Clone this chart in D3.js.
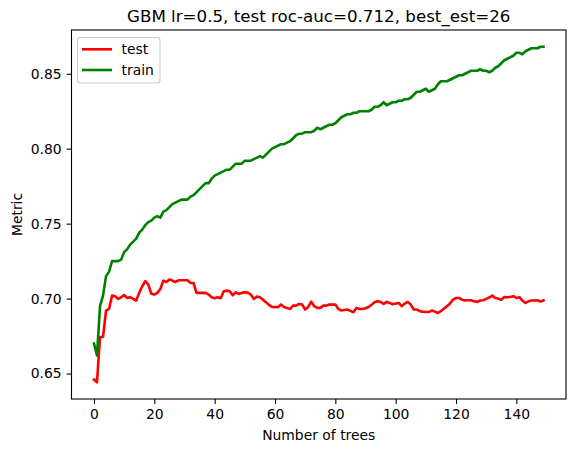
<!DOCTYPE html>
<html><head><meta charset="utf-8">
<script src="https://cdn.jsdelivr.net/npm/d3@7"></script>
<style>body{margin:0;background:#fff}svg{display:block}text{font-family:"DejaVu Sans",sans-serif;fill:#000}</style>
</head><body>
<svg id="c" width="576" height="453"></svg>
<script>
const title = "GBM lr=0.5, test roc-auc=0.712, best_est=26";
const xLabel = "Number of trees";
const yLabel = "Metric";
const xTicks = [0,20,40,60,80,100,120,140];
const yTicks = [0.65,0.70,0.75,0.80,0.85];
const seriesNames = ["test","train"];
const seriesColors = ["#ff0000","#008000"];
const testValues = [
0.646,0.6442,0.6744,0.6744,0.692,0.6931,0.702,0.7016,0.6998,0.7009,
0.7024,0.7004,0.7009,0.6998,0.6987,0.7038,0.7082,0.7116,0.7093,0.7033,
0.7027,0.7038,0.7064,0.712,0.7111,0.7127,0.712,0.7111,0.7122,0.7122,
0.7122,0.7122,0.7104,0.7104,0.7038,0.7038,0.7038,0.7038,0.7027,0.7009,
0.7002,0.7009,0.7002,0.7049,0.7053,0.7049,0.7022,0.7042,0.7031,0.7038,
0.7042,0.704,0.7027,0.6998,0.7013,0.7009,0.6993,0.6976,0.6958,0.6944,
0.6944,0.6942,0.696,0.6944,0.6938,0.6931,0.6953,0.6953,0.6964,0.696,
0.6927,0.6944,0.698,0.6949,0.6938,0.6938,0.6953,0.6953,0.696,0.696,
0.696,0.6931,0.692,0.6924,0.6927,0.6918,0.6909,0.6938,0.6931,0.6931,
0.6936,0.6944,0.6958,0.6976,0.6982,0.6978,0.6964,0.6978,0.6971,0.6962,
0.6967,0.6971,0.6949,0.6967,0.6978,0.696,0.6927,0.6927,0.6916,0.6913,
0.6911,0.6911,0.692,0.6913,0.6904,0.6916,0.6933,0.6949,0.6967,0.6993,
0.7004,0.7004,0.6993,0.6987,0.6989,0.6989,0.6982,0.6978,0.6987,0.6989,
0.6998,0.7007,0.702,0.7004,0.7,0.6991,0.7011,0.7009,0.7011,0.7016,
0.7004,0.7009,0.6987,0.6971,0.6982,0.6987,0.6987,0.6989,0.698,0.6989];
const trainValues = [
0.670,0.662,0.695,0.702,0.715,0.718,0.725,0.725,0.725,0.726,
0.731,0.733,0.736,0.738,0.740,0.744,0.746,0.749,0.751,0.752,
0.754,0.755,0.754,0.758,0.759,0.761,0.763,0.764,0.765,0.766,
0.766,0.766,0.768,0.769,0.771,0.773,0.775,0.777,0.777,0.780,
0.782,0.783,0.784,0.785,0.786,0.786,0.788,0.790,0.790,0.790,
0.792,0.792,0.792,0.793,0.794,0.795,0.794,0.796,0.798,0.800,
0.801,0.802,0.803,0.803,0.804,0.805,0.807,0.809,0.810,0.810,
0.811,0.811,0.811,0.812,0.814,0.813,0.814,0.815,0.816,0.816,
0.817,0.819,0.821,0.822,0.823,0.823,0.824,0.824,0.825,0.825,
0.825,0.825,0.826,0.828,0.828,0.829,0.831,0.829,0.830,0.831,
0.831,0.832,0.832,0.833,0.833,0.834,0.836,0.838,0.838,0.839,
0.840,0.838,0.839,0.840,0.843,0.845,0.845,0.845,0.846,0.847,
0.848,0.849,0.849,0.850,0.851,0.852,0.852,0.852,0.853,0.852,
0.852,0.851,0.852,0.854,0.855,0.857,0.859,0.860,0.861,0.862,
0.864,0.864,0.863,0.865,0.866,0.867,0.867,0.867,0.868,0.868];

const svg = d3.select("#c");
const L = 71.5, R = 566, T = 30, B = 399;
const n = testValues.length;
const xPad = (n-1)*0.05;
const x = d3.scaleLinear().domain([-xPad, n-1+xPad]).range([L, R]);
const all = testValues.concat(trainValues);
const ymin = d3.min(all), ymax = d3.max(all), yPad = (ymax-ymin)*0.05;
const y = d3.scaleLinear().domain([ymin-yPad, ymax+yPad]).range([B, T]);

const line = d3.line().x((d,i)=>x(i)).y(d=>y(d));
[testValues, trainValues].forEach((vals,k)=>{
  svg.append("path").datum(vals).attr("d", line).attr("fill","none")
    .attr("stroke", seriesColors[k]).attr("stroke-width", 2.6)
    .attr("stroke-linejoin","round").attr("stroke-linecap","square");
});

const xAxis = svg.append("g").attr("transform",`translate(0,${B})`)
  .call(d3.axisBottom(x).tickValues(xTicks).tickSize(4.9).tickPadding(5).tickFormat(d3.format("d")));
const yAxis = svg.append("g").attr("transform",`translate(${L},0)`)
  .call(d3.axisLeft(y).tickValues(yTicks).tickSize(4.9).tickPadding(5).tickFormat(d3.format(".2f")));
[xAxis,yAxis].forEach(a=>{
  a.select(".domain").remove();
  a.selectAll("line").attr("stroke","#000").attr("stroke-width",1.1);
  a.selectAll("text").attr("font-size","13.9px").attr("font-family","DejaVu Sans").attr("fill","#000");
});
svg.append("rect").attr("x",L).attr("y",T).attr("width",R-L).attr("height",B-T)
  .attr("fill","none").attr("stroke","#000").attr("stroke-width",1.1);

svg.append("text").attr("x",(L+R)/2).attr("y",21.5).attr("text-anchor","middle")
  .attr("font-size","16.7px").text(title);
svg.append("text").attr("x",(L+R)/2).attr("y",440).attr("text-anchor","middle")
  .attr("font-size","13.9px").text(xLabel);
svg.append("text").attr("transform",`translate(21.5,${(T+B)/2}) rotate(-90)`).attr("text-anchor","middle")
  .attr("font-size","13.9px").text(yLabel);

const lg = svg.append("g");
lg.append("rect").attr("x",77.5).attr("y",37.5).attr("width",82.5).attr("height",45.5)
  .attr("rx",2.8).attr("fill","#fff").attr("fill-opacity",0.8).attr("stroke","#cccccc").attr("stroke-width",1.1);
seriesNames.forEach((nm,k)=>{
  const yy = 49.3 + k*20.7;
  lg.append("line").attr("x1",82).attr("x2",112).attr("y1",yy).attr("y2",yy)
    .attr("stroke",seriesColors[k]).attr("stroke-width",2.6);
  lg.append("text").attr("x",121.5).attr("y",yy+4.9).attr("font-size","13.9px").text(nm);
});
</script>
</body></html>
